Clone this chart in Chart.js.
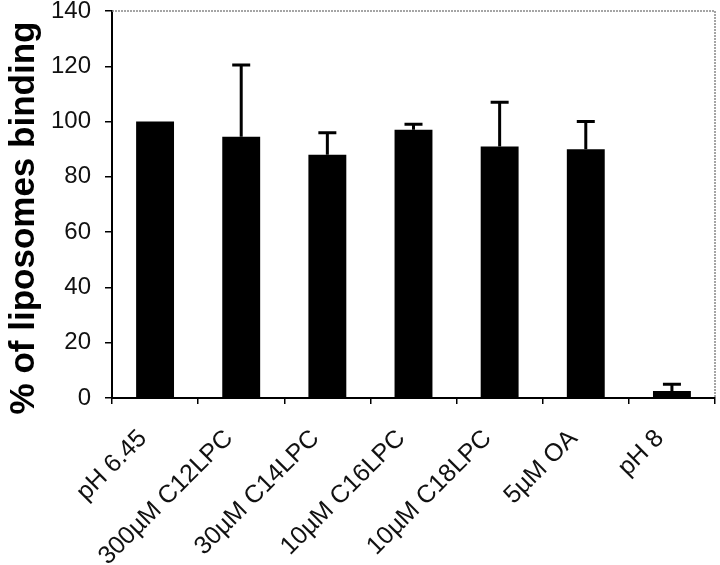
<!DOCTYPE html>
<html>
<head>
<meta charset="utf-8">
<script src="https://cdn.jsdelivr.net/npm/chart.js@4"></script>
<style>
  html, body { margin: 0; padding: 0; background: #fff; }
  #wrap { width: 720px; height: 565px; }
</style>
</head>
<body>
<div id="wrap"><canvas id="c" width="720" height="565"></canvas></div>
<script>
// données
const categories = ["pH 6.45", "300µM C12LPC", "30µM C14LPC", "10µM C16LPC", "10µM C18LPC", "5µM OA", "pH 8"];
const binding = [100, 94.5, 88, 97, 91, 90, 2.5];
const errors = [0, 26, 8, 2, 16, 10, 2.5];
const yTicks = [0, 20, 40, 60, 80, 100, 120, 140];
const yTitle = "% of liposomes binding";

// barres d'erreur (vers le haut seulement)
const errorBars = {
  id: "errorBars",
  afterDatasetsDraw(chart) {
    const ctx = chart.ctx;
    const meta = chart.getDatasetMeta(0);
    const y = chart.scales.y;
    ctx.save();
    ctx.strokeStyle = "#000";
    ctx.lineWidth = 3;
    meta.data.forEach((bar, i) => {
      if (!errors[i]) return;
      const top = y.getPixelForValue(binding[i] + errors[i]);
      ctx.beginPath();
      ctx.moveTo(bar.x, bar.y);
      ctx.lineTo(bar.x, top);
      ctx.moveTo(bar.x - 9, top);
      ctx.lineTo(bar.x + 9, top);
      ctx.stroke();
    });
    ctx.restore();
  }
};

// cadre pointillé en haut et à droite + titre de l'axe y (un peu plus bas que le centre)
const frame = {
  id: "frame",
  beforeDatasetsDraw(chart) {
    const a = chart.chartArea;
    const ctx = chart.ctx;
    ctx.save();
    ctx.strokeStyle = "#888";
    ctx.lineWidth = 1.5;
    ctx.setLineDash([2, 1]);
    ctx.beginPath();
    ctx.moveTo(a.left, a.top);
    ctx.lineTo(a.right, a.top);
    ctx.lineTo(a.right, a.bottom);
    ctx.stroke();
    ctx.restore();

    ctx.save();
    ctx.translate(24, 218);
    ctx.rotate(-Math.PI / 2);
    ctx.fillStyle = "#000";
    ctx.font = "bold 35px 'Liberation Sans', Arial, sans-serif";
    ctx.textAlign = "center";
    ctx.textBaseline = "middle";
    ctx.fillText(yTitle, 0, 0);
    ctx.restore();
  }
};

new Chart(document.getElementById("c"), {
  type: "bar",
  data: {
    labels: categories,
    datasets: [{
      data: binding,
      backgroundColor: "#000",
      borderWidth: 0,
      barPercentage: 0.44,
      categoryPercentage: 1
    }]
  },
  options: {
    responsive: false,
    animation: false,
    layout: { padding: { left: 0, right: 5, top: 11, bottom: 0 } },
    plugins: { legend: { display: false }, tooltip: { enabled: false } },
    scales: {
      x: {
        offset: true,
        grid: { offset: true, drawOnChartArea: false, color: "#000", tickLength: 6, lineWidth: 1.5 },
        border: { color: "#000", width: 2 },
        ticks: {
          autoSkip: false, minRotation: 45, maxRotation: 45,
          color: "#111", padding: 20, labelOffset: -12,
          font: { family: "'Liberation Sans', Arial, sans-serif", size: 25 }
        },
        afterFit(scale) {
          scale.height = 167;
          scale.paddingLeft = 0;
          scale.paddingRight = 0;
        }
      },
      y: {
        min: 0, max: 140,
        afterBuildTicks(scale) { scale.ticks = yTicks.map(v => ({ value: v })); },
        grid: { drawOnChartArea: false, color: "#000", tickLength: 7, lineWidth: 1.5 },
        border: { color: "#000", width: 2 },
        ticks: {
          color: "#111", padding: 14,
          font: { family: "'Liberation Sans', Arial, sans-serif", size: 24 }
        },
        afterFit(scale) {
          scale.width = 112;
          scale.paddingTop = 0;
          scale.paddingBottom = 0;
        }
      }
    }
  },
  plugins: [frame, errorBars]
});
</script>
</body>
</html>
